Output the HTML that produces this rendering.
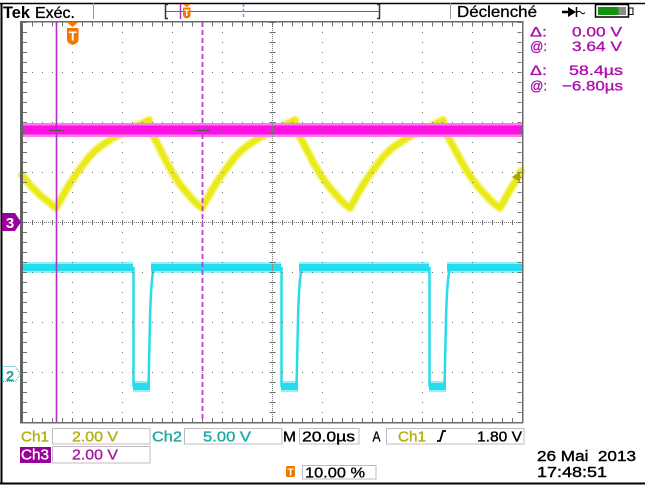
<!DOCTYPE html>
<html><head><meta charset="utf-8"><style>
html,body{margin:0;padding:0;background:#fff;}
svg{display:block;}
text{font-family:"Liberation Sans",sans-serif;}
</style></head><body>
<svg width="645" height="488" viewBox="0 0 645 488" xmlns="http://www.w3.org/2000/svg">
<rect width="645" height="488" fill="#fff"/>

<!-- outer frame -->
<line x1="0" y1="3.5" x2="645" y2="3.5" stroke="#000" stroke-width="1.5"/>
<line x1="1.5" y1="3" x2="1.5" y2="484" stroke="#000" stroke-width="2"/>
<line x1="0" y1="483.5" x2="645" y2="483.5" stroke="#000" stroke-width="2"/>

<!-- header -->
<text x="3" y="18" font-size="17" font-weight="bold" textLength="27" lengthAdjust="spacingAndGlyphs" fill="#000">Tek</text>
<text x="35" y="18" font-size="16" textLength="40" lengthAdjust="spacingAndGlyphs" fill="#000" stroke="#000" stroke-width="0.3">Exéc.</text>
<line x1="93.5" y1="3" x2="93.5" y2="19" stroke="#999"/>

<path d="M168,4.5 H165.5 V18.5 H168" fill="none" stroke="#333" stroke-width="1.5"/>
<path d="M377,4.5 H379.5 V18.5 H377" fill="none" stroke="#333" stroke-width="1.5"/>
<line x1="166" y1="11.5" x2="379" y2="11.5" stroke="#a838c0" stroke-width="1"/>
<line x1="180.5" y1="4" x2="180.5" y2="19" stroke="#a838c0" stroke-width="1.5"/>
<line x1="243.5" y1="4" x2="243.5" y2="19" stroke="#c070d0" stroke-width="1.5" stroke-dasharray="3 2"/>
<path d="M182.5,4 H191 L186.75,7 Z" fill="#f07800"/>
<path d="M183,7.5 H190.5 V15 Q190.5,17.5 186.75,18.5 Q183,17.5 183,15 Z" fill="#f07800"/>
<text x="186.75" y="16" font-size="9" font-weight="bold" fill="#fff" text-anchor="middle">T</text>

<line x1="450.5" y1="3" x2="450.5" y2="19" stroke="#999"/>
<text x="457" y="17" font-size="16" textLength="80" lengthAdjust="spacingAndGlyphs" fill="#000" stroke="#000" stroke-width="0.3">Déclenché</text>

<!-- plug icon -->
<line x1="562" y1="12" x2="569" y2="12" stroke="#000" stroke-width="2.5"/>
<path d="M568,7 L576,12 L568,17 Z" fill="#000"/>
<line x1="576.5" y1="7" x2="576.5" y2="17" stroke="#000" stroke-width="1.5"/>
<path d="M577,12.5 q2,-2.5 4,0 t4,0" stroke="#000" fill="none" stroke-width="1"/>

<!-- battery -->
<rect x="595.5" y="4.5" width="33" height="12.5" fill="#fff" stroke="#000" stroke-width="1.5"/>
<rect x="598" y="7" width="20.5" height="8" fill="#129412"/>
<rect x="618.5" y="7" width="7.5" height="8" fill="#8a8a8a"/>
<rect x="629" y="8" width="4" height="6.5" fill="#fff" stroke="#000" stroke-width="1"/>

<!-- right readouts -->
<g fill="#ad10ad" stroke="#ad10ad" stroke-width="0.35" font-size="14">
<text x="530" y="36.5" textLength="17" lengthAdjust="spacingAndGlyphs">Δ:</text>
<text x="572" y="36.5" textLength="50" lengthAdjust="spacingAndGlyphs">0.00 V</text>
<text x="530" y="51" textLength="17" lengthAdjust="spacingAndGlyphs">@:</text>
<text x="572" y="51" textLength="50" lengthAdjust="spacingAndGlyphs">3.64 V</text>
<text x="530" y="75" textLength="17" lengthAdjust="spacingAndGlyphs">Δ:</text>
<text x="569" y="75" textLength="54" lengthAdjust="spacingAndGlyphs">58.4µs</text>
<text x="530" y="90.5" textLength="17" lengthAdjust="spacingAndGlyphs">@:</text>
<text x="562" y="90.5" textLength="61" lengthAdjust="spacingAndGlyphs">−6.80µs</text>
</g>

<!-- ===== traces ===== -->
<!-- Ch2 cyan -->
<g fill="#8ff2f8">
<rect x="22" y="262" width="111" height="11"/>
<rect x="151" y="262" width="130" height="11"/>
<rect x="299" y="262" width="130" height="11"/>
<rect x="447" y="262" width="75" height="11"/>
<rect x="133" y="381" width="17" height="11"/>
<rect x="281" y="381" width="17" height="11"/>
<rect x="429" y="381" width="17" height="11"/>
</g>
<g fill="#26dcec">
<rect x="22" y="264" width="111" height="7"/>
<rect x="151" y="264" width="130" height="7"/>
<rect x="299" y="264" width="130" height="7"/>
<rect x="447" y="264" width="75" height="7"/>
<rect x="133" y="383" width="17" height="7"/>
<rect x="281" y="383" width="17" height="7"/>
<rect x="429" y="383" width="17" height="7"/>
</g>
<g stroke="#26dcec" stroke-width="2.5" fill="none">
<line x1="133.5" y1="267" x2="133.5" y2="387"/>
<line x1="281.5" y1="267" x2="281.5" y2="387"/>
<line x1="429.5" y1="267" x2="429.5" y2="387"/>
<path d="M148.5,387 L150,320 Q151,278 154,268"/>
<path d="M296.5,387 L298,320 Q299,278 302,268"/>
<path d="M444.5,387 L446,320 Q447,278 450,268"/>
</g>

<!-- Ch1 yellow -->
<g fill="none" stroke-linejoin="round" stroke-linecap="round">
<path id="y1" stroke="#f5f58a" stroke-width="9" d="M22,175 L26,180 L31,186 L36,191 L41,196 L46,200 L51,204 L56,208
L61,199 L66,190 L71,182 L77,173 L83,165 L89,157 L95,151 L101,146 L107,142 L113,138 L119,135 L125,132 L131,129 L137,126 L143,123 L149,120
L152,133 L157,143 L162,153 L167,163 L172,172 L177,180 L182,187 L187,193 L192,199 L197,204 L202,208
L207,199 L212,190 L217,182 L223,173 L229,165 L235,157 L241,151 L247,146 L253,142 L259,138 L265,135 L271,132 L277,129 L283,126 L289,123 L295,120
L298,133 L303.2,143 L308.4,153 L313.6,163 L318.8,172 L324,180 L329.2,187 L334.4,193 L339.6,199 L344.8,204 L350,208
L355,199 L360,190 L365,182 L371,173 L377,165 L383,157 L389,151 L395,146 L401,142 L407,138 L413,135 L419,132 L425,129 L431,126 L437,123 L443,120
L446,133 L451.4,143 L456.8,153 L462.2,163 L467.6,172 L473,180 L478.4,187 L483.8,193 L489.2,199 L494.6,204 L500,208
L505,199 L510,190 L515,182 L521,171"/>
<path stroke="#eaea1a" stroke-width="5.5" d="M22,175 L26,180 L31,186 L36,191 L41,196 L46,200 L51,204 L56,208
L61,199 L66,190 L71,182 L77,173 L83,165 L89,157 L95,151 L101,146 L107,142 L113,138 L119,135 L125,132 L131,129 L137,126 L143,123 L149,120
L152,133 L157,143 L162,153 L167,163 L172,172 L177,180 L182,187 L187,193 L192,199 L197,204 L202,208
L207,199 L212,190 L217,182 L223,173 L229,165 L235,157 L241,151 L247,146 L253,142 L259,138 L265,135 L271,132 L277,129 L283,126 L289,123 L295,120
L298,133 L303.2,143 L308.4,153 L313.6,163 L318.8,172 L324,180 L329.2,187 L334.4,193 L339.6,199 L344.8,204 L350,208
L355,199 L360,190 L365,182 L371,173 L377,165 L383,157 L389,151 L395,146 L401,142 L407,138 L413,135 L419,132 L425,129 L431,126 L437,123 L443,120
L446,133 L451.4,143 L456.8,153 L462.2,163 L467.6,172 L473,180 L478.4,187 L483.8,193 L489.2,199 L494.6,204 L500,208
L505,199 L510,190 L515,182 L521,171"/>
</g>

<!-- Ch3 magenta -->
<rect x="22" y="123" width="500" height="14" fill="#ff7af0"/>
<rect x="22" y="125.5" width="500" height="9" fill="#ff10e2"/>

<!-- ===== graticule ===== -->
<g shape-rendering="crispEdges">
<g stroke="#707070" stroke-width="1" stroke-dasharray="1 9">
<line x1="72.5" y1="22" x2="72.5" y2="422"/>
<line x1="122.5" y1="22" x2="122.5" y2="422"/>
<line x1="172.5" y1="22" x2="172.5" y2="422"/>
<line x1="222.5" y1="22" x2="222.5" y2="422"/>
<line x1="322.5" y1="22" x2="322.5" y2="422"/>
<line x1="372.5" y1="22" x2="372.5" y2="422"/>
<line x1="422.5" y1="22" x2="422.5" y2="422"/>
<line x1="472.5" y1="22" x2="472.5" y2="422"/>
<line x1="22" y1="72.5" x2="522" y2="72.5"/>
<line x1="22" y1="122.5" x2="522" y2="122.5"/>
<line x1="22" y1="172.5" x2="522" y2="172.5"/>
<line x1="22" y1="272.5" x2="522" y2="272.5"/>
<line x1="22" y1="322.5" x2="522" y2="322.5"/>
<line x1="22" y1="372.5" x2="522" y2="372.5"/>
</g>
<!-- center lines -->
<g stroke="#7a7a7a" stroke-width="1" stroke-dasharray="1 1">
<line x1="272.5" y1="22" x2="272.5" y2="422"/>
<line x1="22" y1="222.5" x2="522" y2="222.5"/>
</g>
<g stroke="#6a6a6a" stroke-dasharray="1 9">
<line x1="272.5" y1="22" x2="272.5" y2="423" stroke-width="6"/>
<line x1="22" y1="222.5" x2="523" y2="222.5" stroke-width="5"/>
</g>
<!-- borders -->
<line x1="20" y1="21.5" x2="523" y2="21.5" stroke="#6a6a6a" stroke-width="1.5"/>
<line x1="20" y1="422.5" x2="523" y2="422.5" stroke="#6a6a6a" stroke-width="1.5"/>
<line x1="21.5" y1="21" x2="21.5" y2="423" stroke="#626262" stroke-width="3"/>
<line x1="522.5" y1="21" x2="522.5" y2="423" stroke="#6a6a6a" stroke-width="1.5"/>
<g stroke="#707070" stroke-dasharray="1 9">
<line x1="22" y1="24.5" x2="523" y2="24.5" stroke-width="4"/>
<line x1="22" y1="420" x2="523" y2="420" stroke-width="4"/>
<line x1="25" y1="22" x2="25" y2="423" stroke-width="4"/>
<line x1="519.5" y1="22" x2="519.5" y2="423" stroke-width="4"/>
</g>
</g>

<!-- cursors -->
<line x1="56.5" y1="22" x2="56.5" y2="422" stroke="#b030c4" stroke-width="1.6"/>
<line x1="202.5" y1="22" x2="202.5" y2="422" stroke="#b840c8" stroke-width="1.8" stroke-dasharray="5 3"/>
<line x1="49" y1="130.5" x2="64" y2="130.5" stroke="#555" stroke-width="1"/>
<line x1="195" y1="130.5" x2="210" y2="130.5" stroke="#555" stroke-width="1"/>

<!-- trigger T in plot -->
<path d="M66.5,22 H78.5 L72.5,27 Z" fill="#f07800"/>
<path d="M67,28 H78.5 V40 Q78.5,43 72.75,45 Q67,43 67,40 Z" fill="#f07800"/>
<text x="72.75" y="40.5" font-size="13" font-weight="bold" fill="#fff" text-anchor="middle">T</text>

<!-- trigger level marker -->
<path d="M512,177 L520,172 L520,182 Z" fill="#a6a600"/>
<line x1="519" y1="177.5" x2="522" y2="177.5" stroke="#a6a600" stroke-width="1.5"/>

<!-- channel markers -->
<path d="M2,213 H15 L21,222 L15,231 H2 Z" fill="#990099"/>
<text x="10" y="228" font-size="15" font-weight="bold" fill="#fff" text-anchor="middle">3</text>
<path d="M2.5,366.5 H15 L20.5,374 L15,381.5 H2.5 Z" fill="#fff" stroke="#22aaaa" stroke-width="1" stroke-dasharray="1 1"/>
<text x="10" y="381" font-size="15" font-weight="bold" fill="#1fa3a3" text-anchor="middle">2</text>

<!-- ===== bottom info ===== -->
<g fill="none" stroke="#c2b8c2" stroke-width="1">
<rect x="52.5" y="428.5" width="97.5" height="15.5"/>
<rect x="184.5" y="428.5" width="97.5" height="15.5"/>
<rect x="299.5" y="428.5" width="59.5" height="15.5"/>
<rect x="386.5" y="428.5" width="137.5" height="15.5"/>
<rect x="52.5" y="446.5" width="97.5" height="16.5"/>
<rect x="302.5" y="465.5" width="73.5" height="13.5"/>
</g>
<rect x="20" y="447" width="31" height="16" fill="#990099"/>

<g font-size="14.5" stroke-width="0.35">
<text x="21" y="441.5" textLength="28" lengthAdjust="spacingAndGlyphs" fill="#b0b010" stroke="#b0b010">Ch1</text>
<text x="72" y="441.5" textLength="46" lengthAdjust="spacingAndGlyphs" fill="#b0b010" stroke="#b0b010">2.00 V</text>
<text x="152" y="441.5" textLength="30" lengthAdjust="spacingAndGlyphs" fill="#1ea8a8" stroke="#1ea8a8">Ch2</text>
<text x="203" y="441.5" textLength="48" lengthAdjust="spacingAndGlyphs" fill="#1ea8a8" stroke="#1ea8a8">5.00 V</text>
<text x="283" y="441.5" textLength="13" lengthAdjust="spacingAndGlyphs" fill="#000" stroke="#000">M</text>
<text x="302" y="441.5" textLength="53" lengthAdjust="spacingAndGlyphs" fill="#000" stroke="#000">20.0µs</text>
<text x="372.5" y="441.5" textLength="8" lengthAdjust="spacingAndGlyphs" fill="#000" stroke="#000">A</text>
<text x="398" y="441.5" textLength="28" lengthAdjust="spacingAndGlyphs" fill="#b0b010" stroke="#b0b010">Ch1</text>
<text x="477" y="441.5" textLength="45" lengthAdjust="spacingAndGlyphs" fill="#000" stroke="#000">1.80 V</text>
<text x="21" y="459.5" textLength="28" lengthAdjust="spacingAndGlyphs" fill="#fff" stroke="#fff">Ch3</text>
<text x="72" y="459.5" textLength="46" lengthAdjust="spacingAndGlyphs" fill="#a818a8" stroke="#a818a8">2.00 V</text>
<text x="305" y="477.5" textLength="60" lengthAdjust="spacingAndGlyphs" fill="#000" stroke="#000">10.00 %</text>
</g>
<path d="M437,441 H440 L443,431 H446" fill="none" stroke="#000" stroke-width="1.8"/>

<rect x="286" y="466" width="9" height="11" rx="1.5" fill="#f07800"/>
<text x="290.5" y="475.5" font-size="10" font-weight="bold" fill="#fff" text-anchor="middle">T</text>

<g font-size="15" fill="#000" stroke="#000" stroke-width="0.4">
<text x="537" y="461" textLength="99" lengthAdjust="spacingAndGlyphs" xml:space="preserve">26 Mai  2013</text>
<text x="537" y="477" textLength="70" lengthAdjust="spacingAndGlyphs">17:48:51</text>
</g>
</svg>
</body></html>
